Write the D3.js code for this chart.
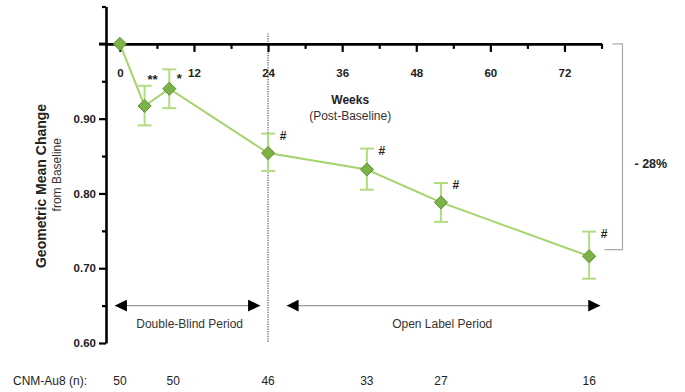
<!DOCTYPE html>
<html>
<head>
<meta charset="utf-8">
<script src="https://cdn.jsdelivr.net/npm/d3@7"></script>
<style>
  body { margin: 0; background: #fff; }
  svg { display: block; font-family: "Liberation Sans", Arial, sans-serif; }
</style>
</head>
<body>
<svg id="chart" width="685" height="392"></svg>
<script>
// data
var weeks = [0, 4, 8, 24, 40, 52, 76];
var means = [1.000, 0.917, 0.940, 0.854, 0.832, 0.788, 0.716];
var upper = [1.000, 0.944, 0.966, 0.880, 0.860, 0.814, 0.749];
var lower = [1.000, 0.891, 0.914, 0.830, 0.805, 0.762, 0.686];
var marks = ["", "**", "*", "#", "#", "#", "#"];
var nWeeks = [0, 8, 24, 40, 52, 76];
var nValues = [50, 50, 46, 33, 27, 16];
var xTickLabels = [0, 12, 24, 36, 48, 60, 72];
var yTickLabels = [0.60, 0.70, 0.80, 0.90];

var svg = d3.select("#chart");

var x = d3.scaleLinear().domain([-2.25, 78]).range([106, 601.5]);
var y = d3.scaleLinear().domain([0.60, 1.05]).range([343, 6.5]);

var lineGreen = "#a6d36c",
    barGreen = "#b3db7f",
    dotFill = "#7db247",
    dotStroke = "#5e8f38";

// dotted separator at week 24
svg.append("line")
    .attr("x1", x(24)).attr("x2", x(24))
    .attr("y1", y(1.014)).attr("y2", y(0.60))
    .attr("stroke", "#777")
    .attr("stroke-width", 1.5)
    .attr("stroke-dasharray", "1.2,1.2");

// y axis
var yTicks = d3.range(0.60, 1.051, 0.05);
var yAxis = svg.append("g")
    .attr("transform", "translate(" + x(-2.25) + ",0)")
    .call(d3.axisLeft(y)
      .tickValues(yTicks)
      .tickSizeOuter(0)
      .tickFormat(function(d) {
        return yTickLabels.some(function(v) { return Math.abs(v - d) < 1e-6; }) ? d3.format(".2f")(d) : "";
      }));
yAxis.select(".domain").attr("stroke-width", 2.6);
yAxis.selectAll(".tick line")
    .attr("stroke-width", 2.2)
    .attr("x2", function(d) {
      var major = Math.abs(Math.round(d * 10) - d * 10) < 1e-6;
      return major ? -7 : -4;
    });
yAxis.selectAll(".tick text")
    .attr("x", -10)
    .style("font-size", "11.5px")
    .style("font-weight", "bold")
    .attr("fill", "#222");

// x axis along the 1.00 line
var xTicks = d3.range(0, 79, 6);
var xAxis = svg.append("g")
    .attr("transform", "translate(0," + y(1.0) + ")")
    .call(d3.axisBottom(x)
      .tickValues(xTicks)
      .tickSizeOuter(0)
      .tickFormat(function(d) { return xTickLabels.indexOf(d) >= 0 ? d : ""; }));
xAxis.select(".domain").attr("stroke-width", 2.6);
xAxis.selectAll(".tick line")
    .attr("stroke-width", 2.2)
    .attr("y2", function(d) { return d % 12 === 0 ? 8 : 5; });
xAxis.selectAll(".tick text")
    .attr("y", 25)
    .style("font-size", "11.5px")
    .style("font-weight", "bold")
    .attr("fill", "#222");
// small left stub of the 1.00 line
svg.append("line")
    .attr("x1", x(-2.25) - 7).attr("x2", x(-2.25))
    .attr("y1", y(1.0)).attr("y2", y(1.0))
    .attr("stroke", "#000").attr("stroke-width", 2.6);

// axis titles
svg.append("text")
    .attr("transform", "translate(46," + y(0.81) + ") rotate(-90)")
    .attr("text-anchor", "middle")
    .style("font-size", "14px")
    .style("font-weight", "bold")
    .attr("fill", "#222")
    .text("Geometric Mean Change");
svg.append("text")
    .attr("transform", "translate(61," + y(0.825) + ") rotate(-90)")
    .attr("text-anchor", "middle")
    .style("font-size", "12px")
    .attr("fill", "#333")
    .text("from Baseline");

svg.append("text")
    .attr("x", x(37.3)).attr("y", y(0.92))
    .attr("text-anchor", "middle")
    .style("font-size", "12px")
    .style("font-weight", "bold")
    .attr("fill", "#222")
    .text("Weeks");
svg.append("text")
    .attr("x", x(37.3)).attr("y", y(0.898))
    .attr("text-anchor", "middle")
    .style("font-size", "12px")
    .attr("fill", "#333")
    .text("(Post-Baseline)");

// error bars
var pts = weeks.map(function(w, i) {
  return {w: w, m: means[i], hi: upper[i], lo: lower[i], mark: marks[i]};
});
var bars = svg.append("g").selectAll("g")
    .data(pts.filter(function(d) { return d.hi > d.lo; }))
    .enter().append("g")
    .attr("stroke", barGreen)
    .attr("stroke-width", 2);
bars.append("line")
    .attr("x1", function(d) { return x(d.w); })
    .attr("x2", function(d) { return x(d.w); })
    .attr("y1", function(d) { return y(d.hi); })
    .attr("y2", function(d) { return y(d.lo); });
bars.append("line")
    .attr("x1", function(d) { return x(d.w) - 7; })
    .attr("x2", function(d) { return x(d.w) + 7; })
    .attr("y1", function(d) { return y(d.hi); })
    .attr("y2", function(d) { return y(d.hi); });
bars.append("line")
    .attr("x1", function(d) { return x(d.w) - 7; })
    .attr("x2", function(d) { return x(d.w) + 7; })
    .attr("y1", function(d) { return y(d.lo); })
    .attr("y2", function(d) { return y(d.lo); });

// mean line
var line = d3.line()
    .x(function(d) { return x(d.w); })
    .y(function(d) { return y(d.m); });
svg.append("path")
    .datum(pts)
    .attr("d", line)
    .attr("fill", "none")
    .attr("stroke", lineGreen)
    .attr("stroke-width", 2);

// diamonds
svg.append("g").selectAll("path")
    .data(pts)
    .enter().append("path")
    .attr("d", d3.symbol().type(d3.symbolDiamond2).size(110))
    .attr("transform", function(d) { return "translate(" + x(d.w) + "," + y(d.m) + ")"; })
    .attr("fill", dotFill)
    .attr("stroke", dotStroke)
    .attr("stroke-width", 1);

// significance marks
svg.append("g").selectAll("text")
    .data(pts.filter(function(d) { return d.mark; }))
    .enter().append("text")
    .attr("x", function(d) { return d.mark === "#" ? x(d.w) + 15 : (d.mark === "**" ? x(d.w) + 8 : x(d.w) + 10); })
    .attr("y", function(d) {
      if (d.mark === "#") return y(d.hi) + 6;
      return d.mark === "*" ? y(d.m) - 6 : y(d.m) - 22;
    })
    .attr("text-anchor", "middle")
    .style("font-size", function(d) { return d.mark === "#" ? "12px" : "13px"; })
    .style("font-weight", "bold")
    .attr("fill", "#222")
    .text(function(d) { return d.mark; });

// bracket showing total change
var first = pts[0], last = pts[pts.length - 1];
var bx = x(78) + 21;
svg.append("path")
    .attr("d", "M" + (x(78) + 11) + "," + y(first.m) + "H" + bx + "V" + y(last.m + 0.009) + "H" + (x(78) + 3))
    .attr("fill", "none")
    .attr("stroke", "#aaa")
    .attr("stroke-width", 1.2);
svg.append("text")
    .attr("x", bx + 12).attr("y", y(0.84) + 4)
    .style("font-size", "12.5px")
    .style("font-weight", "bold")
    .attr("fill", "#222")
    .text("- " + Math.round((1 - last.m / first.m) * 100) + "%");

// period arrows
svg.append("defs").append("marker")
    .attr("id", "tri")
    .attr("viewBox", "0 0 10 10")
    .attr("refX", 10).attr("refY", 5)
    .attr("markerWidth", 12).attr("markerHeight", 12)
    .attr("markerUnits", "userSpaceOnUse")
    .attr("orient", "auto-start-reverse")
    .append("path")
    .attr("d", "M0,0L10,5L0,10Z")
    .attr("fill", "#000");

var periods = [
  {name: "Double-Blind Period", from: -0.8, to: 22.7},
  {name: "Open Label Period", from: 27, to: 77.8}
];
svg.append("g").selectAll("line")
    .data(periods)
    .enter().append("line")
    .attr("x1", function(d) { return x(d.from); })
    .attr("x2", function(d) { return x(d.to); })
    .attr("y1", y(0.65)).attr("y2", y(0.65))
    .attr("stroke", "#999")
    .attr("stroke-width", 1.2)
    .attr("marker-start", "url(#tri)")
    .attr("marker-end", "url(#tri)");
svg.append("g").selectAll("text")
    .data(periods)
    .enter().append("text")
    .attr("x", function(d, i) { return i === 0 ? x(11.3) : x(52.2); })
    .attr("y", y(0.625) + 4)
    .attr("text-anchor", "middle")
    .style("font-size", "12px")
    .attr("fill", "#333")
    .text(function(d) { return d.name; });

// n row
svg.append("text")
    .attr("x", 13).attr("y", 385)
    .style("font-size", "12px")
    .attr("fill", "#222")
    .text("CNM-Au8 (n):");
svg.append("g").selectAll("text")
    .data(nWeeks)
    .enter().append("text")
    .attr("x", function(d, i) { return x(d) + (i === 1 ? 4 : 0); })
    .attr("y", 385)
    .attr("text-anchor", "middle")
    .style("font-size", "12px")
    .attr("fill", "#222")
    .text(function(d, i) { return nValues[i]; });
</script>
</body>
</html>
